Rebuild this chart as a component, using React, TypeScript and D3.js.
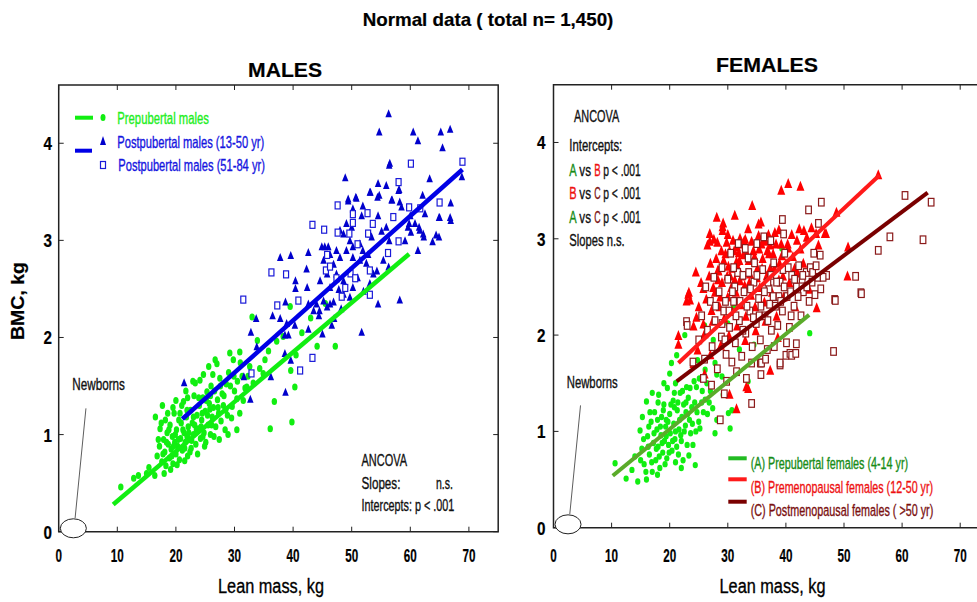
import * as d3 from "d3";
import React, { useRef, useEffect } from "react";

const xTicks = [0, 10, 20, 30, 40, 50, 60, 70];
const yTicks = [0, 1, 2, 3, 4];

// ---- males (lean mass kg, BMC kg) ----
const malesPrepubertal: [number, number][] = [
  [10.6,0.46],[12.8,0.55],[13.6,0.58],[15.0,0.60],[15.4,0.66],[16.4,0.58],[16.5,1.18],[17.3,1.06],[16.8,0.78],[17.2,0.88],
  [17.6,0.72],[17.9,0.95],[18.1,0.82],[18.3,0.68],[18.5,1.02],[18.7,0.90],[18.9,0.76],[19.0,1.10],[19.2,0.85],[19.4,0.98],
  [19.5,0.70],[19.7,1.22],[19.8,0.92],[20.0,0.80],[20.1,1.05],[20.3,0.88],[20.5,1.15],[20.6,0.74],[20.8,0.96],[21.0,1.30],
  [21.1,0.84],[21.3,1.34],[21.4,1.02],[21.6,0.92],[21.8,1.18],[22.0,0.78],[22.1,1.08],[22.3,0.95],[22.5,1.25],[22.6,0.86],
  [22.8,1.12],[23.0,1.00],[23.1,1.40],[23.3,1.53],[23.4,0.90],[23.6,1.20],[23.8,1.06],[24.0,1.30],[24.1,1.56],[24.2,0.96],
  [24.4,1.15],[24.6,1.38],[24.8,1.02],[25.0,1.24],[25.1,0.92],[25.3,1.44],[25.5,1.10],[25.7,1.32],[25.9,1.00],[26.0,1.50],
  [26.2,1.18],[26.4,1.28],[26.7,1.77],[26.8,1.08],[27.0,1.73],[27.1,1.36],[27.3,1.22],[27.5,1.58],[27.7,1.14],[27.9,1.42],
  [28.1,1.30],[28.4,1.05],[28.6,1.52],[28.8,1.20],[29.0,1.64],[29.2,1.84],[29.5,1.17],[29.8,1.77],[30.0,1.45],[30.4,1.05],
  [30.4,1.37],[30.9,1.22],[30.9,1.85],[31.3,1.60],[31.8,1.48],[32.1,1.49],[32.6,1.70],[33.0,2.21],[33.2,1.53],[33.9,1.97],
  [34.3,1.68],[34.9,1.63],[35.2,1.77],[35.8,1.86],[36.1,1.06],[36.8,1.34],[37.2,1.96],[38.3,2.01],[39.5,2.32],[39.6,1.66],
  [39.8,1.13],[40.3,1.49],[40.5,1.82],[44.1,1.91],[47.2,1.91],[43.0,2.20],[41.5,2.05],[45.5,2.35],[19.1,0.64],[20.2,0.69],
  [21.5,0.73],[18.0,0.60],[22.4,0.82],[23.7,0.80],[24.9,0.88],[26.5,0.98],[27.4,0.95],[28.9,1.00],[21.7,1.45],[22.9,1.55],
  [24.7,1.62],[25.6,1.70],[26.3,1.62],[29.6,1.29],[31.0,1.74],[20.9,1.12],[21.9,0.98],[23.2,1.10],[24.5,1.22],[25.8,1.26],
  [17.0,0.95],[17.5,1.12],[17.8,0.80],[18.2,1.15],[18.4,0.92],[18.8,1.05],[19.3,0.78],[19.6,0.88],[19.9,1.00],[20.4,0.95],
  [20.7,1.22],[21.2,1.05],[21.5,0.86],[21.9,1.25],[22.2,1.02],[22.7,0.94],[23.0,1.18],[23.5,1.05],[23.9,1.38],[24.3,1.08],
  [24.6,0.98],[25.2,1.35],[25.4,1.20],[25.9,1.40],[26.1,1.10],[26.6,1.45],[27.2,1.28],[27.6,1.50],[28.2,1.40],[28.5,1.25],
  [29.3,1.50],[29.9,1.60],[30.5,1.55],[31.5,1.35],[32.3,1.60],[20.0,1.35],[22.0,1.38],[19.5,1.28],[18.6,1.22],[17.7,1.30],
];

const malesPostpubertal: [number, number][] = [
  [21.4,1.54],[31.6,1.60],[32.7,1.37],[32.8,2.06],[33.7,2.20],[33.8,1.91],[36.2,1.60],[36.5,2.23],[37.8,2.83],[37.8,2.20],
  [38.6,2.03],[38.6,1.84],[38.7,2.37],[38.7,1.44],[38.9,2.15],[39.2,2.03],[39.6,2.85],[39.6,1.77],[40.3,2.13],[40.4,2.59],
  [40.4,2.51],[42.3,2.71],[42.4,2.52],[42.6,2.88],[42.6,2.09],[44.5,2.28],[45.0,2.04],[46.3,2.35],[46.6,2.13],[48.9,3.65],
  [49.4,3.43],[50.7,3.45],[51.7,2.06],[53.2,3.50],[54.5,3.59],[54.5,2.35],[54.7,3.47],[54.7,4.12],[55.9,3.57],[56.3,4.31],
  [56.4,3.78],[56.4,3.00],[56.8,3.42],[58.0,3.52],[58.2,3.40],[58.2,2.39],[59.1,3.00],[59.8,3.18],[60.5,4.12],[61.3,4.03],
  [61.3,2.90],[61.5,3.14],[62.1,3.47],[62.2,3.07],[62.5,3.28],[63.3,3.64],[63.8,2.99],[64.4,3.06],[65.0,3.24],[65.2,4.12],
  [65.5,3.96],[66.8,4.15],[66.9,3.39],[66.9,3.21],[68.8,3.66],[44.9,2.94],[45.4,2.94],[46.0,2.94],[49.4,3.41],[50.8,3.44],
  [51.9,3.36],[51.7,3.26],[50.2,3.33],[53.1,3.50],[54.4,3.45],[56.5,3.80],[58.1,3.53],[56.9,3.42],[58.5,3.35],[54.5,3.26],
  [55.9,3.14],[55.1,3.10],[53.1,3.07],[53.4,3.04],[49.1,3.18],[50.0,3.14],[48.0,3.11],[48.6,3.07],[49.7,3.00],[50.2,2.94],
  [51.4,2.97],[51.9,2.90],[52.8,2.86],[51.4,2.80],[50.2,2.83],[49.1,2.90],[47.4,2.90],[48.0,2.83],[46.3,2.86],[46.9,2.76],
  [45.2,2.80],[44.6,2.59],[45.8,2.66],[47.4,2.66],[48.6,2.59],[49.7,2.69],[50.2,2.52],[48.6,2.45],[49.7,2.42],[46.3,2.52],
  [45.2,2.38],[44.0,2.35],[45.8,2.32],[46.9,2.37],[42.6,2.35],[43.5,2.28],[44.4,2.23],[52.5,2.77],[53.7,2.66],[53.1,2.56],
  [55.4,2.80],[56.3,2.73],[54.3,2.69],[59.6,3.14],[60.8,3.18],[61.6,3.11],[62.3,3.04],[60.1,3.09],[64.9,3.24],[66.8,3.24],
  [64.9,3.04],[60.0,3.26],[47.8,2.50],[51.0,2.62],[52.0,2.48],[47.0,2.20],[48.2,2.30],
];

const malesOlder: [number, number][] = [
  [31.5,2.39],[36.3,2.67],[38.8,2.65],[37.3,2.33],[40.9,2.38],[43.3,3.16],[45.3,3.11],[47.6,3.36],[47.6,3.08],[50.2,3.27],
  [50.2,3.18],[49.6,3.07],[51.0,2.96],[52.7,3.28],[53.6,3.17],[58.0,3.60],[60.1,3.79],[68.9,3.81],[59.8,3.34],[61.7,3.33],
  [65.0,3.39],[57.1,3.24],[58.0,2.99],[56.2,2.87],[45.6,2.69],[45.8,2.85],[47.4,2.61],[48.9,2.51],[49.8,2.66],[50.6,2.61],
  [53.1,2.69],[53.1,2.44],[48.3,2.42],[43.3,1.79],[41.2,1.66],[32.9,1.63],[52.8,3.07],[46.3,2.73],
];

const malesPrepubertalFit: [number, number][] = [[9.3, 0.28], [59.8, 2.86]];
const malesPostpubertalFit: [number, number][] = [[21.1, 1.16], [68.9, 3.73]];

// ---- females ----
const femalesPrepubertal: [number, number][] = [
  [10.6,0.67],[12.5,0.51],[13.5,0.60],[14.0,0.74],[14.5,0.48],[14.9,1.01],[16.0,1.31],[15.2,0.82],[15.6,0.66],[16.2,0.95],
  [16.5,0.76],[16.8,1.10],[17.0,0.58],[17.2,0.88],[17.4,1.20],[17.6,0.70],[17.8,1.02],[18.0,0.84],[18.1,1.38],[18.3,0.62],
  [18.5,0.96],[18.6,1.15],[18.8,0.78],[19.0,1.28],[19.1,0.90],[19.3,1.05],[19.5,0.72],[19.6,1.45],[19.8,0.86],[20.0,1.18],
  [20.1,0.98],[20.3,1.71],[20.4,0.80],[20.6,1.32],[20.7,1.08],[20.9,0.92],[21.0,1.50],[21.2,1.79],[21.3,1.22],[21.5,0.76],
  [21.6,1.02],[21.8,1.40],[22.0,0.90],[22.1,1.15],[22.3,0.70],[22.4,1.28],[22.6,2.00],[22.7,1.06],[22.9,1.46],[23.0,0.86],
  [23.2,1.35],[23.4,1.12],[23.6,0.98],[23.8,1.25],[24.0,0.86],[24.2,1.52],[24.4,0.65],[24.6,1.46],[24.8,1.74],[25.0,1.10],
  [25.2,1.03],[25.5,1.30],[26.1,1.64],[26.1,1.33],[26.5,1.18],[27.0,1.42],[27.4,1.24],[27.8,0.98],[27.8,1.71],[28.1,1.12],
  [28.1,1.59],[29.0,1.57],[29.2,1.38],[30.1,1.19],[30.4,1.03],[30.7,1.22],[33.5,1.52],[44.1,2.02],[39.3,2.90],[31.0,2.30],
  [30.0,2.12],[26.0,2.10],[27.5,1.95],[32.0,1.85],[34.5,1.90],[17.9,0.55],[19.4,1.12],[20.8,1.25],[22.8,1.20],[16.4,1.05],
  [15.0,0.70],[15.5,0.92],[15.9,0.58],[16.3,0.84],[16.6,1.20],[16.9,0.68],[17.3,0.98],[17.7,0.82],[17.9,1.12],[18.2,0.74],
  [18.4,1.05],[18.7,0.88],[18.9,1.22],[19.2,0.66],[19.4,0.95],[19.7,1.10],[19.9,0.78],[20.2,1.28],[20.5,0.90],[20.8,1.40],
  [21.0,1.00],[21.2,0.84],[21.4,1.30],[21.7,1.12],[21.9,0.96],[22.2,1.42],[22.5,1.00],[22.8,1.30],[23.1,1.18],[23.5,1.45],
  [23.9,1.08],[24.3,1.30],[24.7,1.20],[25.1,1.55],[25.6,1.42],[26.4,1.50],[19.0,1.50],[20.0,1.60],[18.0,1.30],[17.0,1.40],
  [23.3,0.75],[22.0,0.62],[21.0,0.68],[16.0,0.50],[15.3,1.15],[26.8,1.30],[24.5,1.00],[25.8,1.20],
];

const femalesPremenopausal: [number, number][] = [
  [21.5,2.00],[21.5,1.91],[22.9,2.36],[23.2,2.43],[23.3,2.45],[23.5,2.37],[24.1,2.10],[24.1,1.71],[24.5,2.66],[24.6,2.19],
  [25.8,2.12],[25.8,2.49],[26.5,2.94],[26.9,3.06],[26.9,2.98],[27.2,2.26],[28.1,3.23],[28.2,2.97],[28.3,2.68],[28.4,2.67],
  [29.1,3.13],[29.1,3.09],[29.2,3.17],[29.8,2.97],[30.1,2.72],[30.3,1.39],[30.6,2.50],[30.9,2.99],[31.2,3.25],[31.5,2.77],
  [31.5,1.24],[32.1,3.01],[32.1,2.57],[32.7,2.84],[33.2,1.47],[33.5,3.11],[33.5,1.45],[33.8,2.64],[34.2,3.35],[34.9,2.61],
  [35.3,3.16],[35.3,3.04],[35.7,3.18],[35.8,2.95],[37.0,3.05],[37.3,2.94],[37.3,1.64],[38.1,3.07],[39.2,3.51],[39.3,2.83],
  [40.4,3.58],[40.4,2.91],[41.9,2.99],[42.3,3.11],[42.5,3.55],[43.1,3.09],[43.6,3.02],[45.2,3.06],[45.3,2.29],[45.6,2.94],
  [46.7,3.06],[46.9,3.06],[48.7,3.28],[50.6,2.62],[50.7,2.92],[55.9,3.67],[25.0,2.30],[25.4,2.55],[26.0,2.02],[26.3,2.38],
  [26.8,2.62],[27.4,2.15],[27.8,2.45],[28.0,2.80],[28.6,2.30],[29.0,2.55],[29.4,2.18],[29.6,2.85],[30.0,2.40],[30.4,2.62],
  [30.8,2.25],[31.1,2.88],[31.4,2.45],[31.8,2.70],[32.2,2.32],[32.5,2.95],[32.9,2.52],[33.1,2.20],[33.6,2.78],[34.0,2.42],
  [34.4,2.88],[34.7,2.30],[35.1,2.70],[35.5,2.50],[36.0,2.80],[36.3,2.35],[36.7,2.62],[37.1,2.85],[37.6,2.45],[38.0,2.70],
  [38.4,2.20],[38.8,2.58],[39.2,2.95],[39.6,2.40],[40.0,2.75],[40.6,2.55],[41.2,2.82],[41.6,2.30],[42.0,2.65],[43.0,2.75],
  [44.0,2.48],[27.0,1.80],[28.8,1.90],[30.2,2.00],[31.6,2.10],[33.0,1.95],[34.8,2.05],[36.5,2.15],[38.6,1.98],[26.0,1.60],
  [24.8,1.85],[27.6,3.00],[30.0,3.05],[33.0,3.00],[36.5,2.98],[38.8,3.10],[41.0,3.05],[44.4,3.12],[28.9,2.88],[31.9,2.86],
  [27.0,2.75],[27.5,2.50],[28.3,2.58],[28.7,2.40],[29.3,2.78],[29.9,2.62],[30.3,2.88],[30.7,2.70],[31.2,2.58],[31.6,2.92],
  [32.0,2.78],[32.4,2.62],[32.8,2.98],[33.3,2.85],[33.7,2.55],[34.1,2.98],[34.6,2.82],[35.0,2.60],[35.4,2.90],[35.9,2.70],
  [36.4,3.00],[36.8,2.88],[37.3,2.70],[37.8,2.85],[38.3,2.95],[38.9,2.75],[39.5,2.62],[40.3,2.95],[41.5,2.70],[42.5,2.90],
];

const femalesPostmenopausal: [number, number][] = [
  [22.9,2.14],[23.0,2.10],[28.7,1.12],[29.4,1.39],[34.1,1.29],[34.1,1.71],[35.6,1.71],[35.7,1.59],[35.8,1.71],[39.0,1.69],
  [39.0,1.71],[39.4,3.20],[39.6,3.05],[40.0,1.79],[40.1,1.92],[40.7,1.81],[41.0,1.79],[41.7,1.81],[41.8,1.91],[43.9,3.30],
  [44.8,2.85],[45.6,3.16],[45.9,2.83],[46.1,3.38],[47.0,2.62],[48.2,1.83],[48.4,2.37],[48.5,2.36],[52.0,2.61],[52.9,2.44],
  [53.0,2.43],[55.9,2.88],[57.9,3.02],[60.5,3.45],[63.6,2.99],[65.0,3.38],[25.0,1.95],[25.5,2.20],[26.0,1.75],[26.5,2.05],
  [27.0,2.35],[27.3,1.88],[27.8,2.15],[28.2,1.65],[28.5,2.45],[28.9,1.98],[29.3,2.25],[29.7,1.80],[30.0,2.58],[30.3,2.08],
  [30.7,1.72],[31.0,2.35],[31.3,1.92],[31.7,2.65],[32.0,2.15],[32.4,1.78],[32.8,2.45],[33.1,2.02],[33.5,2.80],[33.8,2.25],
  [34.2,1.88],[34.5,2.55],[34.9,2.12],[35.3,2.38],[35.6,1.95],[36.0,2.68],[36.4,2.20],[36.8,1.85],[37.1,2.48],[37.5,2.05],
  [37.9,2.75],[38.2,2.30],[38.6,2.10],[39.0,2.55],[39.4,2.25],[39.8,2.85],[40.2,2.40],[40.6,2.08],[41.0,2.62],[41.4,2.30],
  [41.8,2.50],[42.2,2.72],[42.6,2.20],[43.0,2.45],[43.5,2.65],[44.0,2.35],[44.5,2.55],[45.0,2.42],[45.5,2.60],[46.0,2.48],
  [30.5,2.85],[31.8,2.95],[33.0,2.90],[35.0,2.95],[36.2,3.02],[37.4,2.98],[29.0,2.70],[27.6,2.60],[26.2,2.50],[24.0,1.72],
  [25.8,1.55],[27.2,1.48],[29.8,1.52],[31.5,1.62],[33.2,1.55],[36.5,1.75],[38.0,1.88],[32.6,2.62],[34.6,2.75],[36.9,2.55],
  [38.8,2.40],[40.9,2.20],[42.8,2.58],[44.2,2.70],[29.6,2.35],[27.9,2.30],[31.2,2.50],[35.4,2.20],[37.2,2.32],[39.5,2.68],
  [29.0,2.12],[29.5,1.95],[30.2,2.25],[30.8,2.45],[31.4,2.20],[32.1,2.35],[32.6,2.05],[33.3,2.30],[33.9,2.48],[34.4,2.18],
  [35.0,2.62],[35.7,2.30],[36.3,2.45],[36.9,2.15],[37.4,2.62],[37.8,2.40],[38.4,2.55],[39.1,2.35],[39.7,2.50],[40.4,2.70],
  [40.8,2.45],[41.5,2.58],[42.1,2.40],[42.9,2.62],[43.6,2.50],[44.6,2.65],[45.2,2.72],[46.4,2.60],[31.0,2.70],[33.6,2.65],
];

const femalesPrepubertalFit: [number, number][] = [[10.2, 0.54], [44.0, 2.21]];
const femalesPremenopausalFit: [number, number][] = [[21.5, 1.71], [56.1, 3.66]];
const femalesPostmenopausalFit: [number, number][] = [[21.2, 1.52], [64.4, 3.48]];

// newborn marker (ellipse + pointer line), in data units
const newbornCenter: [number, number] = [2.5, 0.035];
const newbornPointer: [number, number][] = [[2.8, 0.14], [4.65, 1.27]];

const FONT = "'Liberation Sans Narrow', 'Liberation Sans', Arial, sans-serif";
const FONT_WIDE = "'Liberation Sans', Arial, Helvetica, sans-serif";

function App() {
  const ref = useRef<SVGSVGElement>(null);

  useEffect(() => {
    const svg = d3.select(ref.current);
    svg.selectAll("*").remove();

    // text squeezed horizontally to the width measured on the reference
    const txt = (x: number, y: number, s: string, w: number, size: number, color = "#111", weight = "normal", anchor = "start", family = FONT, rotate = 0) => {
      const t = svg.append("text")
        .attr("x", 0).attr("y", 0)
        .attr("font-family", family)
        .attr("font-size", size)
        .attr("font-weight", weight)
        .attr("fill", color)
        .attr("stroke", color)
        .attr("stroke-width", weight === "bold" ? 0.2 : 0.35)
        .attr("text-anchor", anchor)
        .text(s);
      const len = (t.node() as SVGTextElement).getComputedTextLength() || w;
      t.attr("transform", `translate(${x},${y}) rotate(${rotate}) scale(${w / len},1)`);
      return t;
    };

    const tri = (w: number, h: number) => `M0,${-h / 2}L${w / 2},${h / 2}L${-w / 2},${h / 2}Z`;

    // titles
    txt(488, 26, "Normal data ( total n= 1,450)", 251, 18, "#000", "bold", "middle", FONT_WIDE);
    txt(285, 77, "MALES", 74, 20, "#000", "bold", "middle", FONT_WIDE);
    txt(767, 72, "FEMALES", 102, 20, "#000", "bold", "middle", FONT_WIDE);
    txt(24, 301, "BMC, kg", 78, 18, "#000", "bold", "middle", FONT_WIDE, -90);

    const panel = (p: {
      left: number; right: number; top: number; bottom: number; boxed: boolean; labelRight: number;
    }) => {
      const x = d3.scaleLinear().domain([0, 75]).range([p.left, p.left + 75 * p.right]);
      const y = d3.scaleLinear().domain([0, 4.6]).range([p.bottom, p.top]);
      const g = svg.append("g");
      const edge = p.boxed ? x(75) : 977;

      // frame
      g.append("path")
        .attr("d", p.boxed
          ? `M${x(0)},${y(4.6)}H${edge}V${y(0)}H${x(0)}Z`
          : `M${edge},${y(4.6)}H${x(0)}V${y(0)}H${edge}`)
        .attr("fill", "none").attr("stroke", "#222").attr("stroke-width", 1.5);

      xTicks.forEach((t) => {
        g.append("line").attr("x1", x(t)).attr("x2", x(t)).attr("y1", y(4.6)).attr("y2", y(4.6) + 5).attr("stroke", "#222");
        g.append("line").attr("x1", x(t)).attr("x2", x(t)).attr("y1", y(0)).attr("y2", y(0) - 5).attr("stroke", "#222");
        txt(x(t), 562, String(t), 6.5 * String(t).length, 18, "#000", "bold", "middle");
      });
      yTicks.forEach((t) => {
        g.append("line").attr("x1", x(0)).attr("x2", x(0) + 5).attr("y1", y(t)).attr("y2", y(t)).attr("stroke", "#222");
        if (p.boxed) g.append("line").attr("x1", edge).attr("x2", edge - 5).attr("y1", y(t)).attr("y2", y(t)).attr("stroke", "#222");
        txt(p.labelRight, y(t) + 7, String(t), 8.5, 19, "#000", "bold", "end");
      });

      // newborns
      g.append("ellipse")
        .attr("cx", x(newbornCenter[0])).attr("cy", y(newbornCenter[1]))
        .attr("rx", 13).attr("ry", 9.5)
        .attr("fill", "#fff").attr("stroke", "#222").attr("stroke-width", 1);
      g.append("path")
        .attr("d", d3.line()(newbornPointer.map((d) => [x(d[0]), y(d[1])] as [number, number])))
        .attr("stroke", "#333").attr("stroke-width", 0.8).attr("fill", "none");

      return { x, y, g };
    };

    // ---------- MALES ----------
    const m = panel({ left: 58.7, right: 5.86, top: 85, bottom: 531.7, boxed: true, labelRight: 52 });
    txt(72.3, 390, "Newborns", 52.7, 16);

    m.g.selectAll(".mpre").data(malesPrepubertal).enter().append("ellipse")
      .attr("cx", (d) => m.x(d[0])).attr("cy", (d) => m.y(d[1]))
      .attr("rx", 2.7).attr("ry", 3.5).attr("fill", "#11ee11");
    m.g.selectAll(".mpost").data(malesPostpubertal).enter().append("path")
      .attr("d", tri(6.5, 8))
      .attr("transform", (d) => `translate(${m.x(d[0])},${m.y(d[1])})`)
      .attr("fill", "#0000cc");
    m.g.selectAll(".mold").data(malesOlder).enter().append("rect")
      .attr("x", (d) => m.x(d[0]) - 2.5).attr("y", (d) => m.y(d[1]) - 3.5)
      .attr("width", 5).attr("height", 7)
      .attr("fill", "#fff").attr("stroke", "#1a1ad8").attr("stroke-width", 1.2);

    const mline = d3.line<[number, number]>().x((d) => m.x(d[0])).y((d) => m.y(d[1]));
    m.g.append("path").attr("d", mline(malesPrepubertalFit)).attr("stroke", "#11ee11").attr("stroke-width", 4.5);
    m.g.append("path").attr("d", mline(malesPostpubertalFit)).attr("stroke", "#0000e6").attr("stroke-width", 4.5);

    // males legend
    svg.append("line").attr("x1", 75).attr("x2", 93).attr("y1", 117.7).attr("y2", 117.7).attr("stroke", "#11ee11").attr("stroke-width", 4);
    svg.append("line").attr("x1", 75).attr("x2", 92).attr("y1", 150.7).attr("y2", 150.7).attr("stroke", "#0000e6").attr("stroke-width", 4);
    svg.append("ellipse").attr("cx", 103).attr("cy", 117.5).attr("rx", 2.5).attr("ry", 3.5).attr("fill", "#11ee11");
    svg.append("path").attr("d", tri(6, 9)).attr("transform", "translate(103,140.5)").attr("fill", "#0000cc");
    svg.append("rect").attr("x", 100.5).attr("y", 161.5).attr("width", 5).attr("height", 7)
      .attr("fill", "#fff").attr("stroke", "#1a1ad8").attr("stroke-width", 1.2);
    txt(117.3, 124, "Prepubertal males", 91.7, 16.5, "#22ee22");
    txt(117.3, 147.5, "Postpubertal males (13-50 yr)", 147, 16.5, "#1515e0");
    txt(118.3, 171, "Postpubertal males (51-84 yr)", 146.7, 16.5, "#1515e0");

    // males ANCOVA
    txt(361.5, 466, "ANCOVA", 45.5, 16.5);
    txt(361.5, 488.5, "Slopes:", 39, 16.5);
    txt(436, 488.5, "n.s.", 17, 16.5);
    txt(361.5, 511, "Intercepts: p < .001", 93, 16.5);

    // ---------- FEMALES ----------
    const f = panel({ left: 553.5, right: 5.81, top: 84.7, bottom: 527.7, boxed: false, labelRight: 545.5 });
    txt(566.7, 388, "Newborns", 51, 16);

    f.g.selectAll(".fpre").data(femalesPrepubertal).enter().append("ellipse")
      .attr("cx", (d) => f.x(d[0])).attr("cy", (d) => f.y(d[1]))
      .attr("rx", 2.6).attr("ry", 3.2).attr("fill", "#11ee11");
    f.g.selectAll(".fprem").data(femalesPremenopausal).enter().append("path")
      .attr("d", tri(8, 10))
      .attr("transform", (d) => `translate(${f.x(d[0])},${f.y(d[1])})`)
      .attr("fill", "#ff0000");
    f.g.selectAll(".fpost").data(femalesPostmenopausal).enter().append("rect")
      .attr("x", (d) => f.x(d[0]) - 2.8).attr("y", (d) => f.y(d[1]) - 3.8)
      .attr("width", 5.6).attr("height", 7.6)
      .attr("fill", "#fff").attr("stroke", "#8b1a1a").attr("stroke-width", 1.2);

    const fline = d3.line<[number, number]>().x((d) => f.x(d[0])).y((d) => f.y(d[1]));
    f.g.append("path").attr("d", fline(femalesPrepubertalFit)).attr("stroke", "#5aab2a").attr("stroke-width", 4);
    f.g.append("path").attr("d", fline(femalesPremenopausalFit)).attr("stroke", "#ff1a1a").attr("stroke-width", 4);
    f.g.append("path").attr("d", fline(femalesPostmenopausalFit)).attr("stroke", "#7a0000").attr("stroke-width", 4);

    // females ANCOVA block
    const GREEN = "#168c16", RED = "#ee1111", MAROON = "#7a1010";
    txt(574, 121.5, "ANCOVA", 45.3, 16.5);
    txt(569.3, 150.5, "Intercepts:", 53, 16.5);
    const row = (yy: number, a: string, ca: string, b: string, cb: string) => {
      txt(569.3, yy, a, 7.4, 16.5, ca);
      txt(579.3, yy, "vs", 11.7, 16.5);
      txt(594.3, yy, b, 6.4, 16.5, cb);
      txt(603.2, yy, "p < .001", 37.5, 16.5);
    };
    row(175.5, "A", GREEN, "B", RED);
    row(199, "B", RED, "C", MAROON);
    row(222.5, "A", GREEN, "C", MAROON);
    txt(569.3, 245.5, "Slopes n.s.", 55.5, 16.5);

    // females legend
    svg.append("line").attr("x1", 728.3).attr("x2", 746.7).attr("y1", 458.3).attr("y2", 458.3).attr("stroke", "#22bb22").attr("stroke-width", 4);
    svg.append("line").attr("x1", 728.3).attr("x2", 746.7).attr("y1", 479.3).attr("y2", 479.3).attr("stroke", "#ff1a1a").attr("stroke-width", 4);
    svg.append("line").attr("x1", 728.3).attr("x2", 746.7).attr("y1", 501.7).attr("y2", 501.7).attr("stroke", "#7a0000").attr("stroke-width", 4);
    txt(750.7, 469, "(A) Prepubertal females (4-14 yr)", 157.6, 16.5, GREEN);
    txt(750.7, 492.5, "(B) Premenopausal females (12-50 yr)", 182.6, 16.5, RED);
    txt(750.7, 516, "(C) Postmenopausal females ( >50 yr)", 182.6, 16.5, MAROON);

    // axis titles
    txt(271, 593, "Lean mass, kg", 106, 21, "#000", "normal", "middle");
    txt(772.5, 593, "Lean mass, kg", 106, 21, "#000", "normal", "middle");
  }, []);

  return (
    <svg ref={ref} width={977} height={602}
      style={{ position: "absolute", left: 0, top: 0, background: "#fff" }} />
  );
}

export default App;
